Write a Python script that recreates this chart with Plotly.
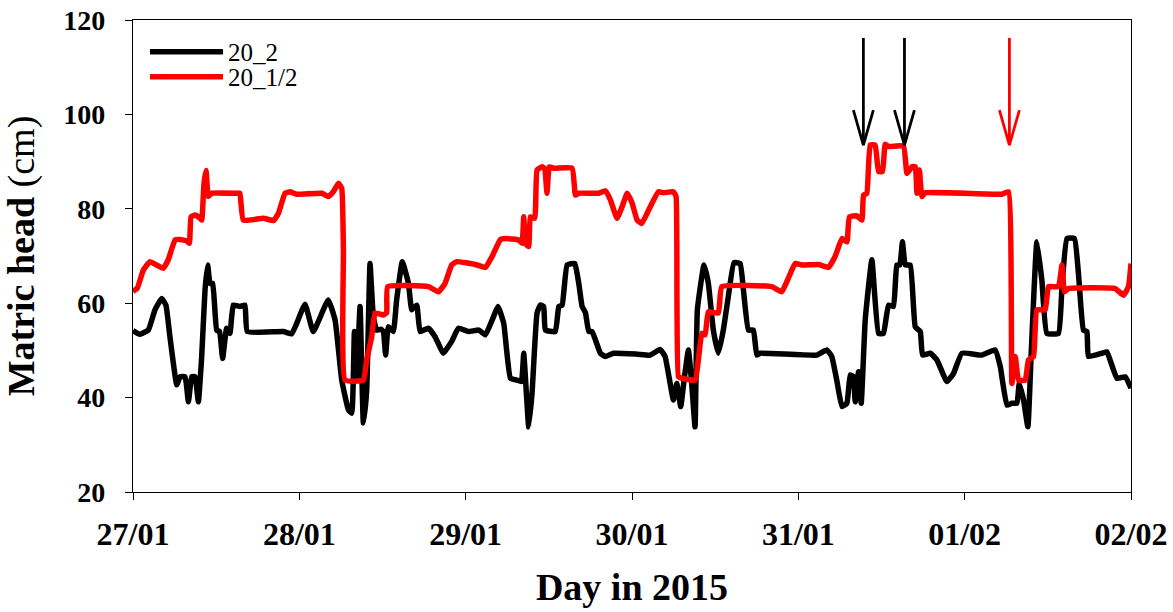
import pandas as pd
import plotly.graph_objects as go

# ---------------- data (days after 27/01/2015 00:00, matric head in cm) ----------------
black_day = [0.000, 0.040, 0.092, 0.132, 0.172, 0.198, 0.222, 0.263, 0.283, 0.313, 0.333, 0.353, 0.373,
             0.393, 0.413, 0.433, 0.449, 0.463, 0.479, 0.503, 0.520, 0.539, 0.563, 0.583, 0.603, 0.643,
             0.673, 0.687, 0.904, 0.954, 0.984, 1.034, 1.084, 1.174, 1.215, 1.255, 1.295, 1.315, 1.331,
             1.345, 1.365, 1.385, 1.405, 1.425, 1.445, 1.465, 1.490, 1.505, 1.519, 1.535, 1.565, 1.585,
             1.619, 1.656, 1.676, 1.706, 1.726, 1.776, 1.816, 1.866, 1.916, 1.956, 2.016, 2.079, 2.119,
             2.159, 2.195, 2.229, 2.269, 2.309, 2.335, 2.349, 2.365, 2.379, 2.399, 2.429, 2.449, 2.469,
             2.479, 2.539, 2.560, 2.580, 2.610, 2.656, 2.680, 2.700, 2.720, 2.740, 2.760, 2.810, 2.840,
             2.890, 3.031, 3.109, 3.169, 3.199, 3.249, 3.269, 3.293, 3.313, 3.339, 3.359, 3.379, 3.393,
             3.433, 3.459, 3.489, 3.519, 3.549, 3.579, 3.613, 3.650, 3.670, 3.700, 3.730, 3.750, 3.770,
             4.111, 4.171, 4.201, 4.231, 4.262, 4.292, 4.312, 4.330, 4.342, 4.362, 4.378, 4.402, 4.442,
             4.482, 4.512, 4.542, 4.572, 4.592, 4.610, 4.626, 4.643, 4.673, 4.703, 4.733, 4.747, 4.793,
             4.833, 4.893, 4.933, 4.983, 5.103, 5.183, 5.214, 5.254, 5.284, 5.314, 5.328, 5.354, 5.380,
             5.400, 5.434, 5.464, 5.494, 5.564, 5.585, 5.615, 5.660, 5.684, 5.714, 5.735, 5.744, 5.825,
             5.855, 5.915, 5.965, 6.000]
black_val = [54.2, 53.4, 54.3, 58.6, 61.0, 59.6, 52.9, 42.7, 44.4, 44.4, 39.1, 44.4, 44.4,
             39.1, 48.7, 62.8, 68.1, 64.2, 64.2, 54.3, 54.0, 48.3, 54.7, 53.6, 59.6, 59.3,
             59.6, 54.0, 54.0, 53.5, 55.7, 59.8, 54.0, 60.7, 56.4, 43.7, 37.4, 36.7, 54.0,
             44.4, 59.3, 34.6, 41.6, 68.4, 57.1, 54.3, 54.5, 54.0, 49.0, 55.0, 54.0, 60.7,
             68.8, 64.2, 58.6, 59.6, 54.0, 54.7, 52.9, 49.4, 51.9, 54.7, 54.0, 54.3, 53.3,
             56.4, 59.3, 55.7, 44.1, 43.7, 43.4, 49.4, 40.9, 33.8, 40.9, 57.9, 59.6, 59.3,
             54.3, 54.0, 59.3, 59.6, 68.1, 68.4, 64.2, 59.3, 58.0, 54.0, 54.0, 49.4, 48.7,
             49.4, 49.2, 49.0, 50.2, 48.7, 39.5, 43.0, 38.1, 43.7, 50.1, 43.0, 33.8, 58.6,
             68.1, 64.2, 54.3, 49.4, 54.3, 61.4, 68.6, 68.4, 62.8, 54.3, 54.3, 49.0, 49.4,
             49.0, 50.1, 48.7, 43.7, 38.1, 38.8, 44.8, 44.5, 39.1, 45.5, 38.8, 56.4, 69.2,
             53.6, 53.6, 59.6, 59.3, 68.1, 68.1, 73.0, 68.1, 68.1, 55.0, 54.0, 49.0, 49.4,
             48.0, 43.4, 45.1, 49.4, 49.0, 50.1, 46.6, 38.4, 38.8, 38.8, 43.0, 39.5, 33.8,
             49.4, 73.0, 64.9, 53.6, 53.6, 63.5, 73.7, 73.7, 66.3, 54.3, 54.0, 48.7, 49.4,
             49.7, 44.1, 44.4, 42.0]

red_day = [0.000, 0.026, 0.062, 0.102, 0.142, 0.182, 0.212, 0.253, 0.283, 0.323, 0.339, 0.349, 0.373,
           0.403, 0.413, 0.427, 0.439, 0.453, 0.473, 0.633, 0.643, 0.663, 0.784, 0.844, 0.874, 0.914,
           0.944, 0.984, 1.135, 1.174, 1.204, 1.235, 1.255, 1.265, 1.275, 1.385, 1.405, 1.435, 1.455,
           1.505, 1.525, 1.531, 1.776, 1.836, 1.876, 1.916, 1.947, 2.058, 2.119, 2.159, 2.209, 2.239,
           2.319, 2.339, 2.349, 2.359, 2.379, 2.389, 2.415, 2.429, 2.459, 2.475, 2.489, 2.503, 2.530,
           2.640, 2.660, 2.680, 2.800, 2.840, 2.870, 2.910, 2.940, 2.971, 3.001, 3.031, 3.059, 3.109,
           3.159, 3.189, 3.249, 3.265, 3.279, 3.299, 3.379, 3.399, 3.420, 3.440, 3.459, 3.519, 3.540,
           3.840, 3.900, 3.940, 3.981, 4.021, 4.121, 4.181, 4.221, 4.262, 4.292, 4.307, 4.352, 4.382,
           4.392, 4.412, 4.432, 4.462, 4.482, 4.506, 4.522, 4.542, 4.632, 4.653, 4.683, 4.703, 4.713,
           4.728, 4.743, 4.763, 5.224, 5.264, 5.284, 5.304, 5.324, 5.364, 5.384, 5.414, 5.434, 5.484,
           5.504, 5.564, 5.585, 5.600, 5.624, 5.905, 5.955, 5.985, 6.000]
red_val = [62.5, 63.2, 67.0, 68.8, 68.1, 67.4, 69.2, 73.4, 73.5, 73.2, 72.7, 78.3, 78.7,
           78.0, 77.6, 85.4, 88.1, 82.6, 83.3, 83.3, 83.3, 77.6, 78.0, 77.5, 79.0, 83.3,
           83.6, 83.1, 83.3, 82.6, 83.6, 85.4, 84.3, 71.3, 43.7, 43.7, 48.0, 52.9, 57.9,
           57.5, 58.0, 63.5, 63.5, 62.4, 64.2, 68.1, 68.8, 68.2, 67.6, 69.9, 73.5, 73.7,
           73.4, 72.7, 78.3, 72.7, 72.0, 78.3, 78.0, 88.2, 88.9, 88.5, 83.3, 88.9, 88.6,
           88.6, 82.9, 83.3, 83.3, 83.8, 81.9, 78.0, 80.4, 83.3, 81.2, 77.6, 76.9, 80.4,
           83.6, 83.4, 83.6, 82.6, 44.4, 44.1, 43.7, 48.0, 53.6, 53.3, 58.2, 57.9, 63.5,
           63.5, 62.4, 65.3, 68.4, 68.1, 68.2, 67.6, 69.9, 73.7, 73.0, 78.3, 78.5, 77.6,
           82.9, 83.3, 93.5, 93.5, 87.9, 87.9, 93.7, 93.2, 93.3, 87.5, 88.9, 88.9, 83.3,
           88.2, 82.6, 83.4, 83.1, 83.6, 43.0, 48.7, 43.7, 43.7, 48.0, 48.7, 58.6, 58.6,
           63.5, 63.5, 68.1, 62.4, 63.1, 63.1, 61.7, 63.5, 68.4]

series_names = ["20_2", "20_1/2"]
series_colors = ["#000000", "#FF0000"]

# event arrows (day position, colour), pointing down from arrow_top to arrow_tip
arrow_day = [4.391, 4.638, 5.269]
arrow_color = ["#000000", "#000000", "#FF0000"]
arrow_top = 116.2
arrow_tip = 93.5
arrow_head_len = 7.4      # in cm units
arrow_head_half = 0.06    # in days

tick_days = [0, 1, 2, 3, 4, 5, 6]
y_ticks = [20, 40, 60, 80, 100, 120]

base = pd.Timestamp("2015-01-27")


def to_time(days):
    return [base + pd.Timedelta(days=d) for d in days]


fig = go.Figure()
for name, color, d, v, lg in [(series_names[0], series_colors[0], black_day, black_val, "legend"),
                              (series_names[1], series_colors[1], red_day, red_val, "legend2")]:
    fig.add_trace(go.Scatter(x=to_time(d), y=v, mode="lines", name=name, legend=lg,
                             line=dict(color=color, width=5.5, shape="spline", smoothing=0.35)))

for d, c in zip(arrow_day, arrow_color):
    xs = [d, d, None, d - arrow_head_half, d, d + arrow_head_half]
    ys = [arrow_top, arrow_tip, None, arrow_tip + arrow_head_len, arrow_tip, arrow_tip + arrow_head_len]
    xt = [None if x is None else base + pd.Timedelta(days=x) for x in xs]
    fig.add_trace(go.Scatter(x=xt, y=ys, mode="lines", showlegend=False, hoverinfo="skip",
                             line=dict(color=c, width=2.8)))

serif = "Liberation Serif"
legend_style = dict(x=0.012, xanchor="left", yanchor="top",
                    font=dict(family=serif, size=25, color="black"),
                    bgcolor="rgba(0,0,0,0)", itemwidth=73)
fig.update_layout(
    width=1173, height=612,
    margin=dict(l=133, r=42, t=20, b=120, autoexpand=False),
    paper_bgcolor="white", plot_bgcolor="white",
    showlegend=True,
    legend=dict(y=0.981, **legend_style),
    legend2=dict(y=0.928, **legend_style),
    xaxis=dict(type="date", automargin=False,
               range=[base, base + pd.Timedelta(days=6)],
               tickvals=to_time(tick_days), tickformat="%d/%m",
               ticks="outside", ticklen=7, tickwidth=1.2, tickcolor="black",
               showline=True, linecolor="black", linewidth=1.3, mirror=True,
               showgrid=False, zeroline=False,
               ticklabelstandoff=6,
               tickfont=dict(family=serif, size=32, color="black", weight="bold"),
               title=dict(text="<b>Day in 2015</b>", standoff=22,
                          font=dict(family=serif, size=38, color="black"))),
    yaxis=dict(range=[20, 120], tickvals=y_ticks, automargin=False,
               ticks="outside", ticklen=7, tickwidth=1.2, tickcolor="black",
               showline=True, linecolor="black", linewidth=1.3, mirror=True,
               showgrid=False, zeroline=False,
               ticklabelstandoff=14,
               tickfont=dict(family=serif, size=28, color="black", weight="bold"),
               title=dict(text="<b>Matric head</b> (cm)", standoff=22,
                          font=dict(family=serif, size=38, color="black"))),
)

fig.write_html("out.html")
